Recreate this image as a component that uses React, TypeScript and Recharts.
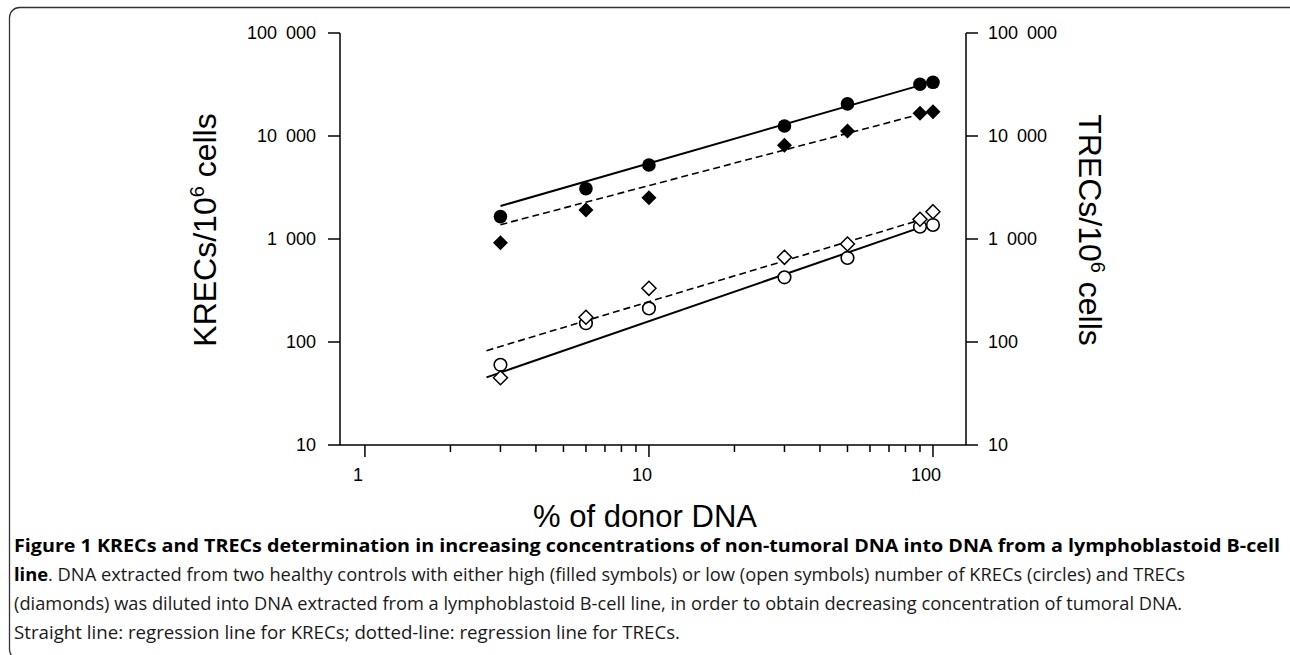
import React from 'react';
import { ComposedChart, Scatter, XAxis, YAxis } from 'recharts';

// % of donor DNA (x) and measured copies / 10^6 cells
const donorPct = [3, 6, 10, 30, 50, 90, 100];
const krecHigh = [1650, 3080, 5230, 12500, 20500, 31800, 33200];
const trecHigh = [920, 1910, 2520, 8130, 11200, 16600, 17200];
const krecLow = [60, 152, 212, 425, 655, 1316, 1368];
const trecLow = [45, 174, 332, 664, 893, 1553, 1842];

// regression lines, end points
const krecHighFitX = [3, 90];
const krecHighFitY = [2090, 31000];
const trecHighFitX = [3, 90];
const trecHighFitY = [1377, 16250];
const krecLowFitX = [2.68, 90];
const krecLowFitY = [45.4, 1290];
const trecLowFitX = [2.68, 90];
const trecLowFitY = [82.4, 1530];

const xTicks = [1, 2, 3, 4, 5, 6, 7, 8, 9, 10, 20, 30, 40, 50, 60, 70, 80, 90, 100];
const yTicks = [10, 100, 1000, 10000, 100000];

const captionLines = [
  'Figure 1 KRECs and TRECs determination in increasing concentrations of non-tumoral DNA into DNA from a lymphoblastoid B-cell',
  '. DNA extracted from two healthy controls with either high (filled symbols) or low (open symbols) number of KRECs (circles) and TRECs',
  '(diamonds) was diluted into DNA extracted from a lymphoblastoid B-cell line, in order to obtain decreasing concentration of tumoral DNA.',
  'Straight line: regression line for KRECs; dotted-line: regression line for TRECs.',
];

const toPoints = (xs: number[], ys: number[]) => xs.map((x, i) => ({ x, y: ys[i] }));

const FONT = '"Liberation Sans", Arial, Helvetica, sans-serif';

const fmt = (v: number) => String(v).replace(/\B(?=(\d{3})+(?!\d))/g, '\u2002');

const isMajor = (v: number) => Math.abs(Math.log10(v) - Math.round(Math.log10(v))) < 1e-9;

const XTick = (props: any) => {
  const { x, y, payload } = props;
  const major = isMajor(payload.value);
  return (
    <g>
      <line x1={x} x2={x} y1={y} y2={y + (major ? 12 : 7)} stroke="#000" strokeWidth={1.5} />
      {major && (
        <text x={x - 7} y={y + 35.5} textAnchor="middle" fontSize={18} fontFamily={FONT} fill="#000">
          {payload.value}
        </text>
      )}
    </g>
  );
};

const LeftTick = (props: any) => {
  const { x, y, payload } = props;
  return (
    <g>
      <line x1={x - 12} x2={x} y1={y} y2={y} stroke="#000" strokeWidth={1.5} />
      <text x={x - 24} y={y + 6.4} textAnchor="end" fontSize={18} fontFamily={FONT} fill="#000">
        {fmt(payload.value)}
      </text>
    </g>
  );
};

const RightTick = (props: any) => {
  const { x, y, payload } = props;
  return (
    <g>
      <line x1={x} x2={x + 12} y1={y} y2={y} stroke="#000" strokeWidth={1.5} />
      <text x={x + 22} y={y + 6.4} textAnchor="start" fontSize={18} fontFamily={FONT} fill="#000">
        {fmt(payload.value)}
      </text>
    </g>
  );
};

const FilledCircle = (p: any) => <circle cx={p.cx} cy={p.cy} r={6.8} fill="#000" />;
const OpenCircle = (p: any) => <circle cx={p.cx} cy={p.cy} r={6.3} fill="#fff" stroke="#000" strokeWidth={1.6} />;
const diamond = (cx: number, cy: number, h: number) =>
  `${cx},${cy - h} ${cx + h},${cy} ${cx},${cy + h} ${cx - h},${cy}`;
const FilledDiamond = (p: any) => <polygon points={diamond(p.cx, p.cy, 7.5)} fill="#000" />;
const OpenDiamond = (p: any) => (
  <polygon points={diamond(p.cx, p.cy, 7)} fill="#fff" stroke="#000" strokeWidth={1.5} />
);
const NoDot = () => <g />;

const solid = { stroke: '#000', strokeWidth: 2 };
const dashed = { stroke: '#000', strokeWidth: 1.6, strokeDasharray: '7 4' };

export default function App() {
  return (
    <div style={{ position: 'absolute', left: 0, top: 0, width: 1290, height: 655, background: '#fff' }}>
      <div style={{ position: 'absolute', left: 0, top: 0 }}>
        <ComposedChart width={1290} height={655} margin={{ top: 33, right: 244, bottom: 170, left: 260 }}>
          <XAxis
            dataKey="x"
            type="number"
            scale="log"
            domain={[0.817, 130.7]}
            ticks={xTicks}
            interval={0}
            height={40}
            tickSize={0}
            tickMargin={0}
            tickLine={false}
            tick={<XTick />}
            axisLine={{ stroke: '#000', strokeWidth: 1.5 }}
            allowDataOverflow
          />
          <YAxis
            yAxisId="left"
            dataKey="y"
            type="number"
            scale="log"
            domain={[10, 100000]}
            ticks={yTicks}
            interval={0}
            width={80}
            tickSize={0}
            tickMargin={0}
            tickLine={false}
            tick={<LeftTick />}
            axisLine={{ stroke: '#000', strokeWidth: 1.5 }}
            allowDataOverflow
          />
          <YAxis
            yAxisId="right"
            orientation="right"
            dataKey="y"
            type="number"
            scale="log"
            domain={[10, 100000]}
            ticks={yTicks}
            interval={0}
            width={80}
            tickSize={0}
            tickMargin={0}
            tickLine={false}
            tick={<RightTick />}
            axisLine={{ stroke: '#000', strokeWidth: 1.5 }}
            allowDataOverflow
          />

          <Scatter yAxisId="left" data={toPoints(krecHighFitX, krecHighFitY)} line={solid} shape={NoDot} fill="#000" isAnimationActive={false} />
          <Scatter yAxisId="right" data={toPoints(trecHighFitX, trecHighFitY)} line={dashed} shape={NoDot} fill="#000" isAnimationActive={false} />
          <Scatter yAxisId="left" data={toPoints(krecLowFitX, krecLowFitY)} line={solid} shape={NoDot} fill="#000" isAnimationActive={false} />
          <Scatter yAxisId="right" data={toPoints(trecLowFitX, trecLowFitY)} line={dashed} shape={NoDot} fill="#000" isAnimationActive={false} />

          <Scatter yAxisId="left" data={toPoints(donorPct, krecHigh)} shape={FilledCircle} isAnimationActive={false} />
          <Scatter yAxisId="right" data={toPoints(donorPct, trecHigh)} shape={FilledDiamond} isAnimationActive={false} />
          <Scatter yAxisId="left" data={toPoints(donorPct, krecLow)} shape={OpenCircle} isAnimationActive={false} />
          <Scatter yAxisId="right" data={toPoints(donorPct, trecLow)} shape={OpenDiamond} isAnimationActive={false} />
        </ComposedChart>
      </div>

      <svg width={1290} height={655} style={{ position: 'absolute', left: 0, top: 0, pointerEvents: 'none' }}>
        <rect x={9.5} y={7.5} width={1290} height={652} rx={10} fill="none" stroke="#333" strokeWidth={1.3} />

        <text transform="translate(216,230) rotate(-90)" textAnchor="middle" fontSize={32} fontFamily={FONT} fill="#000">
          KRECs/10<tspan dy={-12} fontSize={20}>6</tspan>
          <tspan dy={12}> cells</tspan>
        </text>
        <text transform="translate(1079,230) rotate(90)" textAnchor="middle" fontSize={32} fontFamily={FONT} fill="#000">
          TRECs/10<tspan dy={-12} fontSize={20}>6</tspan>
          <tspan dy={12}> cells</tspan>
        </text>
        <text x={645} y={527} textAnchor="middle" fontSize={31} fontFamily={FONT} fill="#000">
          % of donor DNA
        </text>

        <g fontFamily='"Open Sans", "Noto Sans", sans-serif' fontSize={18} fill="#1a1a1a">
          <text x={14} y={552} fontWeight="bold" fill="#000" textLength={1266} lengthAdjust="spacingAndGlyphs">
            {captionLines[0]}
          </text>
          <text x={14} y={581} textLength={1171} lengthAdjust="spacingAndGlyphs">
            <tspan fontWeight="bold" fill="#000">line</tspan>
            {captionLines[1]}
          </text>
          <text x={14} y={610} textLength={1168} lengthAdjust="spacingAndGlyphs">
            {captionLines[2]}
          </text>
          <text x={14} y={639} textLength={666} lengthAdjust="spacingAndGlyphs">
            {captionLines[3]}
          </text>
        </g>
      </svg>
    </div>
  );
}
